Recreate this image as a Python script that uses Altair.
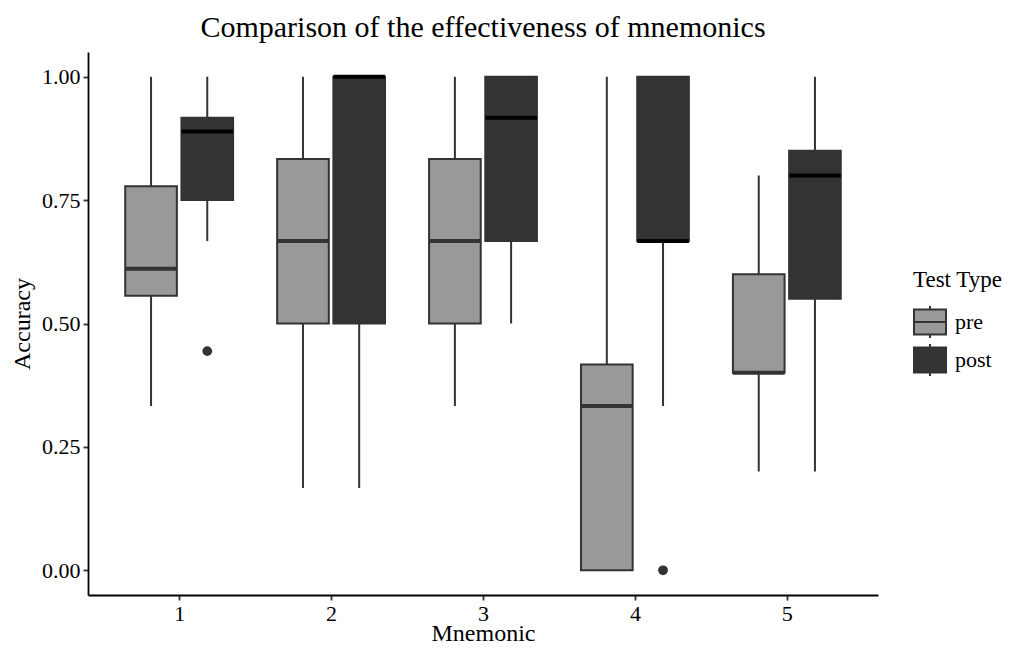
import altair as alt
import pandas as pd

# Box-plot summary statistics
mnemonic = [1, 1, 2, 2, 3, 3, 4, 4, 5, 5]
test_type = ["pre", "post", "pre", "post", "pre", "post", "pre", "post", "pre", "post"]
lower = [0.333, 0.667, 0.167, 0.167, 0.333, 0.500, 0.000, 0.333, 0.200, 0.200]
q1 = [0.556, 0.750, 0.500, 0.500, 0.500, 0.667, 0.000, 0.667, 0.400, 0.550]
median = [0.611, 0.889, 0.667, 1.000, 0.667, 0.917, 0.333, 0.667, 0.400, 0.800]
q3 = [0.778, 0.917, 0.833, 1.000, 0.833, 1.000, 0.417, 1.000, 0.600, 0.850]
upper = [1.000, 1.000, 1.000, 1.000, 1.000, 1.000, 1.000, 1.000, 0.800, 1.000]

out_mnemonic = [1, 4]
out_test = ["post", "post"]
out_value = [0.444, 0.000]

tick_labels_x = [1, 2, 3, 4, 5]
tick_labels_y = [0.0, 0.25, 0.5, 0.75, 1.0]

FONT = "Liberation Serif"

stats = pd.DataFrame({
    "mnemonic": mnemonic, "test": test_type, "lower": lower,
    "q1": q1, "median": median, "q3": q3, "upper": upper,
})
outs = pd.DataFrame({"mnemonic": out_mnemonic, "test": out_test, "value": out_value})

dodge = "datum.mnemonic + (datum.test == 'pre' ? -0.185 : 0.185)"

xscale = alt.Scale(domain=[0.4, 5.6], nice=False, zero=False)
yscale = alt.Scale(domain=[-0.05, 1.05], nice=False, zero=False)

xaxis = alt.Axis(values=tick_labels_x, format="d", title="Mnemonic",
                 titleBaseline="alphabetic", titleY=45)
yaxis = alt.Axis(values=tick_labels_y, format=".2f", title="Accuracy")

base = alt.Chart(stats).transform_calculate(
    pos=dodge
).transform_calculate(
    x0="datum.pos - 0.17", x1="datum.pos + 0.17"
)

whisker = base.mark_rule(color="#333333", strokeWidth=2).encode(
    x=alt.X("pos:Q", scale=xscale, axis=xaxis),
    y=alt.Y("lower:Q", scale=yscale, axis=yaxis),
    y2="upper:Q",
)

box = base.mark_rect(stroke="#333333", strokeWidth=2).encode(
    x=alt.X("x0:Q", scale=xscale, axis=xaxis),
    x2="x1:Q",
    y=alt.Y("q1:Q", scale=yscale, axis=yaxis),
    y2="q3:Q",
    fill=alt.Fill(
        "test:N",
        scale=alt.Scale(domain=["pre", "post"], range=["#999999", "#333333"]),
        legend=alt.Legend(
            title="Test Type",
            orient="none",
            legendX=825,
            legendY=217,
            symbolType="M-1,-0.78H1V0.78H-1Z M0,-0.78V-1.15 M0,0.78V1.15 M-1,0H1",
            symbolSize=1024,
            symbolStrokeColor="#333333",
            symbolStrokeWidth=2,
            symbolOpacity=1,
            labelFontSize=22,
            titleFontSize=23,
            titleFontWeight="normal",
            titleFont=FONT,
            labelFont=FONT,
            labelColor="black",
            titleColor="black",
            labelOffset=8,
            clipHeight=32,
            rowPadding=6,
            titlePadding=14,
        ),
    ),
)

med = base.mark_rule(strokeWidth=4).encode(
    x=alt.X("x0:Q", scale=xscale, axis=xaxis),
    x2="x1:Q",
    y=alt.Y("median:Q", scale=yscale, axis=yaxis),
    color=alt.condition("datum.test == 'post'", alt.value("#000000"), alt.value("#333333")),
)

pts = alt.Chart(outs).transform_calculate(
    pos=dodge
).mark_circle(size=95, color="#333333", opacity=1).encode(
    x=alt.X("pos:Q", scale=xscale, axis=xaxis),
    y=alt.Y("value:Q", scale=yscale, axis=yaxis),
)

chart = alt.layer(whisker, box, med, pts).properties(
    width=790,
    height=543,
    autosize=alt.AutoSizeParams(type="none"),
    padding={"left": 80, "top": 44, "right": 136, "bottom": 47},
    title=alt.Title(
        "Comparison of the effectiveness of mnemonics",
        font=FONT, fontSize=30, fontWeight="normal", color="black",
        anchor="middle", frame="group", offset=9,
    ),
).configure_view(
    stroke=None
).configure_axis(
    grid=False,
    domainColor="black",
    domainWidth=1.8,
    tickColor="#333333",
    tickWidth=1.8,
    tickSize=5,
    labelFont=FONT,
    labelFontSize=22,
    labelColor="black",
    titleFont=FONT,
    titleFontSize=24,
    titleFontWeight="normal",
    titleColor="black",
    labelPadding=3,
).configure_axisY(
    titlePadding=7,
).configure_axisX(
    labelPadding=3,
)

chart.save("out.html", embed_options={"renderer": "svg", "actions": False})
